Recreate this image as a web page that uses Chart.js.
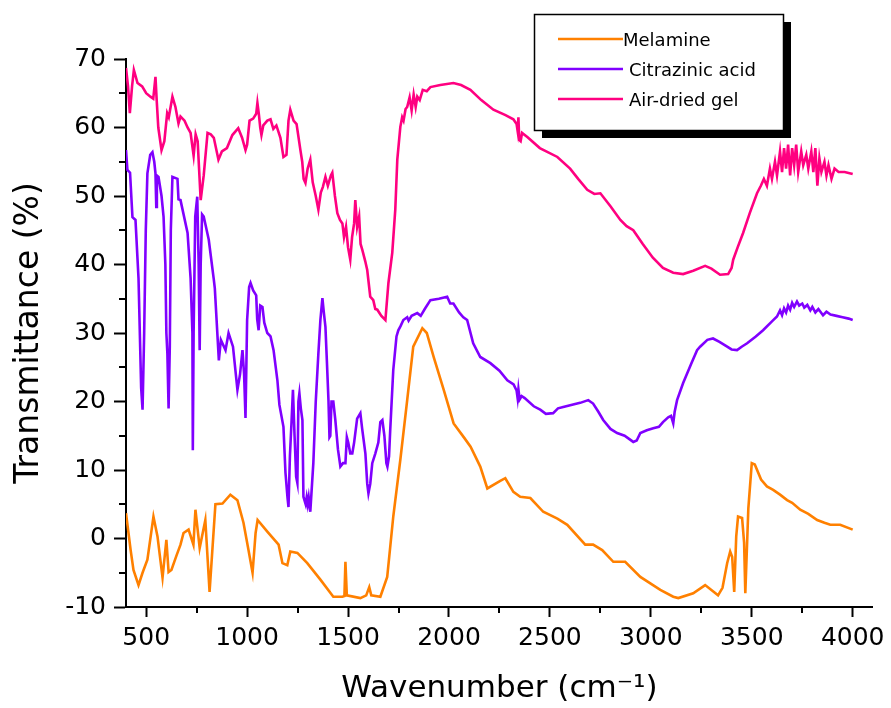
<!DOCTYPE html>
<html>
<head>
<meta charset="utf-8">
<script src="https://cdn.jsdelivr.net/npm/chart.js@4.4.1/dist/chart.umd.min.js"></script>
<style>
  html, body { margin: 0; padding: 0; background: #fff; }
  #wrap { width: 891px; height: 708px; position: relative; }
</style>
</head>
<body>
<div id="wrap"><canvas id="chart"></canvas></div>
<script>
// Melamine
const melamineX = [400, 423, 437, 462, 482, 506, 536, 556, 581, 600, 611, 625, 650, 670, 685, 710, 734, 744, 765, 793, 814, 843, 878, 917, 952, 982, 1007, 1027, 1042, 1052, 1100, 1156, 1175, 1199, 1214, 1249, 1298, 1363, 1427, 1472, 1482, 1487, 1494, 1561, 1590, 1605, 1615, 1660, 1694, 1724, 1759, 1793, 1823, 1868, 1890, 1924, 1974, 2023, 2073, 2107, 2155, 2190, 2254, 2279, 2319, 2353, 2403, 2467, 2537, 2586, 2675, 2714, 2759, 2814, 2873, 2948, 3047, 3111, 3136, 3210, 3269, 3333, 3355, 3378, 3393, 3403, 3413, 3423, 3432, 3452, 3462, 3468, 3483, 3500, 3515, 3546, 3575, 3606, 3640, 3675, 3700, 3740, 3780, 3824, 3860, 3889, 3938, 4000];
const melamineT = [3.7, -1.7, -4.6, -6.8, -5, -3.1, 3.2, 0.3, -5.7, -0.2, -4.9, -4.6, -2.5, -0.9, 0.8, 1.3, -0.9, 4.2, -1.4, 2.7, -7.8, 5, 5.1, 6.4, 5.6, 2.3, -1.7, -5, 0.8, 2.7, 1, -0.9, -3.6, -3.9, -1.9, -2.1, -3.6, -6, -8.5, -8.5, -8.4, -3.4, -8.3, -8.7, -8.3, -7.1, -8.3, -8.5, -5.6, 3.2, 11.5, 20.2, 28, 30.7, 30, 26.5, 21.7, 16.8, 14.8, 13.4, 10.5, 7.3, 8.4, 8.8, 6.8, 6.1, 5.9, 3.9, 2.9, 2, -0.9, -0.9, -1.7, -3.4, -3.4, -5.6, -7.5, -8.5, -8.7, -8, -6.8, -8.3, -7.2, -3.6, -1.9, -2.7, -7.8, 0.3, 3.2, 3, -0.6, -8, 4.4, 11, 10.8, 8.6, 7.6, 7.1, 6.4, 5.6, 5.2, 4.2, 3.6, 2.7, 2.3, 2, 2, 1.3];

// Citrazinic acid
const citrazinicX = [400, 407, 420, 432, 447, 462, 475, 482, 490, 498, 506, 520, 531, 540, 546, 550, 553, 561, 576, 586, 595, 600, 605, 611, 617, 622, 630, 655, 660, 670, 705, 720, 729, 731, 735, 743, 753, 760, 765, 770, 777, 785, 810, 835, 840, 860, 870, 893, 908, 930, 952, 965, 977, 985, 992, 1000, 1010, 1017, 1030, 1045, 1050, 1057, 1065, 1076, 1085, 1100, 1116, 1131, 1150, 1160, 1180, 1190, 1200, 1205, 1212, 1220, 1227, 1235, 1243, 1249, 1254, 1259, 1266, 1274, 1279, 1290, 1295, 1300, 1305, 1313, 1328, 1340, 1353, 1363, 1373, 1380, 1388, 1395, 1403, 1408, 1412, 1418, 1427, 1437, 1450, 1462, 1475, 1487, 1494, 1501, 1511, 1521, 1530, 1545, 1561, 1570, 1586, 1595, 1601, 1610, 1620, 1635, 1650, 1660, 1670, 1680, 1690, 1695, 1703, 1709, 1724, 1740, 1749, 1760, 1774, 1793, 1800, 1815, 1843, 1860, 1880, 1908, 1950, 1991, 2006, 2022, 2050, 2071, 2090, 2120, 2155, 2205, 2250, 2289, 2320, 2335, 2340, 2344, 2350, 2360, 2375, 2420, 2452, 2480, 2516, 2540, 2566, 2620, 2650, 2690, 2714, 2740, 2764, 2800, 2833, 2870, 2913, 2930, 2948, 2980, 3012, 3040, 3060, 3086, 3100, 3106, 3111, 3118, 3130, 3160, 3200, 3229, 3244, 3280, 3308, 3340, 3378, 3400, 3427, 3450, 3477, 3520, 3556, 3600, 3625, 3640, 3650, 3660, 3670, 3680, 3690, 3700, 3710, 3724, 3735, 3750, 3760, 3775, 3790, 3800, 3815, 3830, 3853, 3870, 3890, 3920, 3950, 3980, 4000];
const citrazinicT = [56.7, 53.8, 53.4, 46.9, 46.5, 38, 22, 18.8, 30, 45, 53.3, 56, 56.4, 55, 53.3, 48.4, 53, 52.8, 50, 47, 40, 30, 27, 19, 28, 45, 52.8, 52.5, 49.5, 49.4, 44.6, 38, 30, 12.9, 30, 47, 49.9, 40, 27.5, 40, 47.3, 47, 43.6, 37.8, 36.5, 26, 29, 27.5, 30, 28, 21.7, 24, 27.5, 24, 17.6, 31.9, 36.7, 37.3, 36.2, 35.5, 32, 30.4, 34, 33.8, 31.5, 30, 29.5, 27.5, 23.1, 19.5, 16.3, 9.6, 6, 4.6, 12, 17, 21.7, 15, 9, 8.1, 20, 21.2, 19, 17.3, 6.1, 5, 6, 5, 6, 3.9, 11, 20, 27, 31.9, 35.1, 33, 30.9, 26, 20.2, 14.8, 15, 20, 20, 17.3, 13, 10.5, 11, 11, 14.8, 14, 12.4, 12.4, 14, 17.5, 18.3, 16, 12.4, 8, 6.6, 8, 11, 12.4, 14, 17, 17.3, 15, 11, 10.5, 12, 15.9, 24.6, 29.5, 30.4, 31, 31.9, 32.3, 31.8, 32.5, 32.9, 32.5, 33.5, 34.8, 35, 35.3, 34.3, 34.3, 33, 32.3, 31.9, 28.5, 26.5, 25.6, 24.5, 23.1, 22.5, 21.6, 20.5, 21.8, 20.3, 20.8, 20.5, 19.3, 18.8, 18.2, 18.3, 19, 19.2, 19.6, 19.8, 20.2, 19.7, 18.5, 17.3, 16, 15.4, 15, 14.1, 14.3, 15.4, 15.8, 16.1, 16.3, 17, 17.7, 17.9, 17.3, 16.8, 18.5, 20.2, 22.7, 25.5, 27.5, 28, 29, 29.2, 28.7, 28, 27.6, 27.5, 28, 28.5, 29.5, 30.4, 31.7, 32.4, 33.3, 32.6, 33.6, 33, 34, 33.4, 34.4, 33.8, 34.6, 34, 34.3, 33.7, 34.1, 33.3, 33.8, 33, 33.5, 32.6, 33.1, 32.7, 32.5, 32.3, 32.1, 31.9];

// Air-dried gel
const gelX = [400, 410, 419, 430, 439, 457, 480, 500, 521, 535, 546, 552, 560, 576, 590, 604, 612, 630, 645, 660, 670, 690, 705, 720, 735, 745, 755, 770, 785, 804, 820, 835, 858, 875, 900, 927, 956, 975, 992, 1000, 1012, 1030, 1045, 1051, 1058, 1065, 1071, 1080, 1100, 1116, 1130, 1145, 1165, 1180, 1195, 1205, 1214, 1230, 1245, 1264, 1273, 1280, 1289, 1300, 1313, 1325, 1340, 1353, 1365, 1375, 1388, 1400, 1415, 1422, 1435, 1447, 1460, 1472, 1480, 1490, 1500, 1511, 1520, 1530, 1536, 1545, 1555, 1562, 1571, 1585, 1595, 1610, 1625, 1635, 1645, 1665, 1685, 1700, 1719, 1734, 1744, 1759, 1768, 1775, 1785, 1793, 1805, 1815, 1825, 1835, 1843, 1855, 1870, 1890, 1908, 1957, 2022, 2060, 2106, 2160, 2220, 2280, 2319, 2335, 2340, 2344, 2348, 2355, 2362, 2388, 2450, 2537, 2600, 2640, 2685, 2720, 2750, 2800, 2849, 2880, 2913, 2960, 3010, 3060, 3111, 3160, 3210, 3269, 3300, 3343, 3383, 3400, 3408, 3430, 3457, 3490, 3526, 3545, 3560, 3575, 3590, 3600, 3615, 3625, 3640, 3650, 3660, 3670, 3680, 3690, 3700, 3710, 3720, 3730, 3745, 3755, 3770, 3780, 3795, 3805, 3815, 3825, 3835, 3845, 3860, 3870, 3880, 3895, 3910, 3930, 3960, 4000];
const gelT = [68.7, 66, 62.1, 66, 68.4, 66.5, 66, 65, 64.5, 64.2, 67.4, 64, 60, 56.7, 58, 62.1, 61.5, 64.5, 63, 60.6, 61.6, 61, 60, 59.2, 55.9, 59, 58, 49.4, 53, 59.2, 59, 58.5, 55.3, 56.5, 57, 58.9, 59.9, 58.5, 56.7, 57.5, 61, 61.3, 62, 63.6, 62, 60, 58.9, 60.3, 61, 61.2, 59.8, 60.3, 58.5, 55.7, 56, 61, 62.6, 61, 60.5, 56.7, 55, 52.5, 51.9, 54, 55.3, 52, 50, 48, 50.5, 51.3, 52.8, 51.5, 53, 53.4, 50, 47.5, 46.5, 46, 44, 45.5, 42.5, 40.7, 44, 46, 49.4, 45.5, 47, 43, 42.1, 40.5, 39.2, 35.3, 34.8, 33.5, 33.4, 32.5, 31.9, 37.3, 41.7, 48, 55.3, 60.1, 61.5, 61, 62.7, 63, 64.4, 62.5, 64.8, 63, 64.5, 64, 65.5, 65.3, 65.9, 66.2, 66.5, 66.2, 65.5, 64, 62.6, 61.8, 61.2, 60.5, 59.5, 61.5, 58.2, 58, 59.2, 58.6, 57, 55.7, 54, 52.5, 50.9, 50.3, 50.4, 48.5, 46.5, 45.6, 45, 43, 41, 39.5, 38.8, 38.6, 39.1, 39.8, 39.4, 38.5, 38.6, 39.5, 40.7, 42.5, 44.6, 47.5, 50.4, 51.5, 52.5, 51.5, 54, 52.5, 55, 53, 56.5, 53.5, 57, 54, 57.5, 53, 57, 54.5, 57.5, 53.5, 56.5, 54.5, 56, 54, 56.5, 53.5, 57, 51.5, 55.5, 53.5, 55, 53, 54.5, 52.5, 54, 53.5, 53.5, 53.2];

const seriesNames = ['Melamine', 'Citrazinic acid', 'Air-dried gel'];
const seriesColors = ['#ff8000', '#8000ff', '#ff0080'];
const xTickValues = [500, 1000, 1500, 2000, 2500, 3000, 3500, 4000];
const xMinorTicks = [750, 1250, 1750, 2250, 2750, 3250, 3750];
const yMinorTicks = [-5, 5, 15, 25, 35, 45, 55, 65];

function pares(xs, ys) {
    return xs.map((x, i) => ({ x: x, y: ys[i] }));
}

const fuente = "'DejaVu Sans', sans-serif";

// ticks menores y leyenda con sombra
const extras = {
    id: 'extras',
    afterDraw(chart) {
        const ctx = chart.ctx;
        const xs = chart.scales.x;
        const ys = chart.scales.y;
        const area = chart.chartArea;
        ctx.save();
        ctx.strokeStyle = '#000';
        ctx.lineWidth = 2;
        ctx.beginPath();
        xMinorTicks.forEach(v => {
            const px = Math.round(xs.getPixelForValue(v));
            ctx.moveTo(px, area.bottom);
            ctx.lineTo(px, area.bottom + 6);
        });
        yMinorTicks.forEach(v => {
            const py = Math.round(ys.getPixelForValue(v));
            ctx.moveTo(area.left, py);
            ctx.lineTo(area.left - 7, py);
        });
        ctx.stroke();

        // leyenda
        const bx = 534, by = 14, bw = 249, bh = 116;
        ctx.fillStyle = '#000';
        ctx.fillRect(bx + 8, by + 8, bw, bh);
        ctx.fillStyle = '#fff';
        ctx.fillRect(bx, by, bw, bh);
        ctx.lineWidth = 1.5;
        ctx.strokeRect(bx + 0.5, by + 0.5, bw, bh);
        ctx.font = "18px " + fuente;
        ctx.textBaseline = 'middle';
        chart.data.datasets.forEach((ds, i) => {
            const ly = 39 + i * 30;
            ctx.strokeStyle = ds.borderColor;
            ctx.lineWidth = 2.5;
            ctx.beginPath();
            ctx.moveTo(558, ly);
            ctx.lineTo(623, ly);
            ctx.stroke();
            ctx.fillStyle = '#000';
            ctx.fillText(ds.label, i === 0 ? 623 : 629, ly + 2);
        });
        ctx.restore();
    }
};

const ctx = document.getElementById('chart').getContext('2d');
const myChart = new Chart(ctx, {
    type: 'line',
    data: {
        datasets: [
            { label: seriesNames[0], data: pares(melamineX, melamineT), borderColor: seriesColors[0] },
            { label: seriesNames[1], data: pares(citrazinicX, citrazinicT), borderColor: seriesColors[1] },
            { label: seriesNames[2], data: pares(gelX, gelT), borderColor: seriesColors[2] }
        ].map(ds => Object.assign(ds, { borderWidth: 2.6, pointRadius: 0, tension: 0, fill: false }))
    },
    options: {
        responsive: true,
        maintainAspectRatio: false,
        animation: false,
        layout: { padding: { top: 59, right: 18, left: 0, bottom: 0 } },
        plugins: { legend: { display: false }, tooltip: { enabled: false } },
        scales: {
            x: {
                type: 'linear',
                min: 400,
                max: 4100,
                afterBuildTicks: scale => { scale.ticks = xTickValues.map(v => ({ value: v })); },
                afterFit: scale => { scale.height = 101; },
                grid: { display: true, drawOnChartArea: false, drawTicks: true, tickLength: 10, tickWidth: 2, tickColor: '#000' },
                border: { display: true, color: '#000', width: 2 },
                ticks: { color: '#000', font: { family: fuente, size: 25 }, padding: 6, maxRotation: 0, autoSkip: false,
                         callback: v => String(v) },
                title: { display: true, text: 'Wavenumber (cm\u207B\u00B9)', color: '#000', font: { family: fuente, size: 31 }, padding: { top: 0, bottom: 0 } }
            },
            y: {
                min: -10,
                max: 70,
                ticks: { stepSize: 10, color: '#000', font: { family: fuente, size: 25 }, padding: 8,
                         callback: v => String(v) },
                afterFit: scale => { scale.width = 126; },
                grid: { display: true, drawOnChartArea: false, drawTicks: true, tickLength: 12, tickWidth: 2, tickColor: '#000' },
                border: { display: true, color: '#000', width: 2 },
                title: { display: true, text: 'Transmittance (%)', color: '#000', font: { family: fuente, size: 33 }, padding: { top: 10, bottom: 0 } }
            }
        }
    },
    plugins: [extras]
});
</script>
</body>
</html>
